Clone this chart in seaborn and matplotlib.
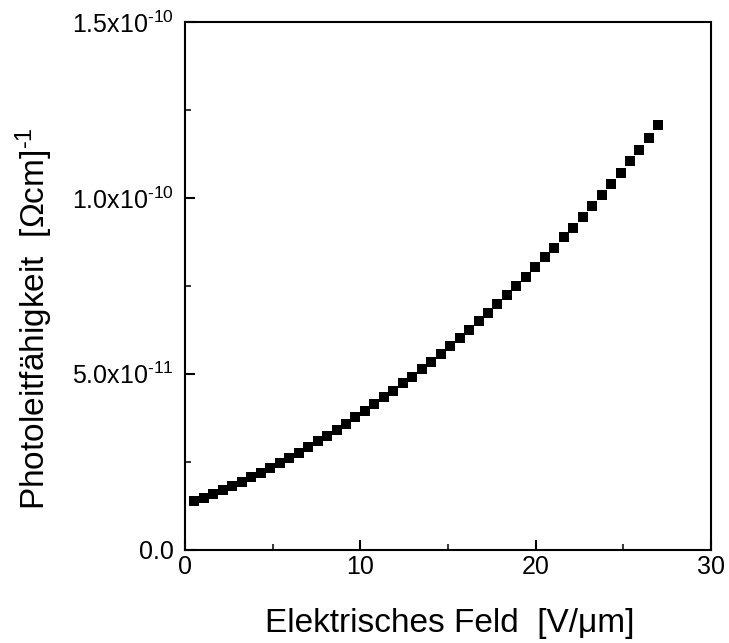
import numpy as np
import pandas as pd
import matplotlib
matplotlib.use("Agg")
import matplotlib.pyplot as plt
import seaborn as sns

# Data
field = [0.54, 1.08, 1.62, 2.16, 2.70, 3.24, 3.78, 4.32, 4.86, 5.40,
         5.94, 6.48, 7.02, 7.56, 8.10, 8.64, 9.18, 9.72, 10.26, 10.80,
         11.34, 11.88, 12.42, 12.96, 13.50, 14.04, 14.58, 15.12, 15.66, 16.20,
         16.74, 17.28, 17.82, 18.36, 18.90, 19.44, 19.98, 20.52, 21.06, 21.60,
         22.14, 22.68, 23.22, 23.76, 24.30, 24.84, 25.38, 25.92, 26.46, 27.00]
conductivity_e11 = [1.366, 1.472, 1.565, 1.679, 1.793, 1.907, 2.049, 2.172, 2.314, 2.456,
                    2.599, 2.752, 2.912, 3.074, 3.225, 3.407, 3.578, 3.757, 3.936, 4.136,
                    4.326, 4.517, 4.725, 4.916, 5.123, 5.342, 5.550, 5.778, 6.014, 6.242,
                    6.490, 6.726, 6.982, 7.238, 7.494, 7.762, 8.035, 8.311, 8.587, 8.872,
                    9.156, 9.450, 9.763, 10.067, 10.380, 10.711, 11.044, 11.357, 11.690, 12.060]
conductivity = [v * 1e-11 for v in conductivity_e11]

x_ticks = [0, 10, 20, 30]
x_tick_labels = ["0", "10", "20", "30"]
y_ticks = [0.0, 5.0e-11, 1.0e-10, 1.5e-10]
y_tick_labels = ["0.0", r"5.0x10$^{\text{-}11}$", r"1.0x10$^{\text{-}10}$", r"1.5x10$^{\text{-}10}$"]

sns.set_theme(style="white")
plt.rcParams['font.family'] = ['Liberation Sans', 'DejaVu Sans']
plt.rcParams['mathtext.fontset'] = 'custom'
plt.rcParams['mathtext.rm'] = 'Liberation Sans'
plt.rcParams['mathtext.it'] = 'Liberation Sans'
plt.rcParams['mathtext.bf'] = 'Liberation Sans:bold'
plt.rcParams['mathtext.default'] = 'regular'

df = pd.DataFrame({"E": field, "sigma": conductivity})

fig = plt.figure(figsize=(7.29, 6.43), dpi=100)
ax = fig.add_axes([0.2538, 0.1454, 0.9753 - 0.2538, 0.9658 - 0.1454])

sns.scatterplot(data=df, x="E", y="sigma", marker="s", s=44, color="black",
                edgecolor="black", linewidth=0, ax=ax, legend=False)

ax.set_xlim(0, 30)
ax.set_ylim(0, 1.5e-10)
ax.set_xticks(x_ticks)
ax.set_xticklabels(x_tick_labels, fontsize=18)
ax.set_xticks([5, 15, 25], minor=True)
ax.set_yticks(y_ticks)
ax.set_yticklabels(y_tick_labels, fontsize=18)
ax.set_yticks([2.5e-11, 7.5e-11, 1.25e-10], minor=True)

ax.tick_params(axis="x", which="major", pad=4)
ax.tick_params(axis="y", which="major", pad=8)
ax.tick_params(axis="both", which="major", direction="in", length=7, width=1.5,
               colors="black", bottom=True, left=True, top=False, right=False)
ax.tick_params(axis="both", which="minor", direction="in", length=4.5, width=1.3,
               bottom=True, left=True, top=False, right=False)

for sp in ax.spines.values():
    sp.set_visible(True)
    sp.set_color("black")
    sp.set_linewidth(1.5)

ax.set_xlabel("Elektrisches Feld  [V/\u03bcm]", fontsize=24, color="black")
ax.set_ylabel("Photoleitf\u00e4higkeit  [\u03a9cm]$^{\\text{-}1}$", fontsize=24, color="black")
ax.xaxis.set_label_coords(0.504, -0.110)
ax.yaxis.set_label_coords(-0.247, 0.438)

fig.savefig("out.png", dpi=100)
